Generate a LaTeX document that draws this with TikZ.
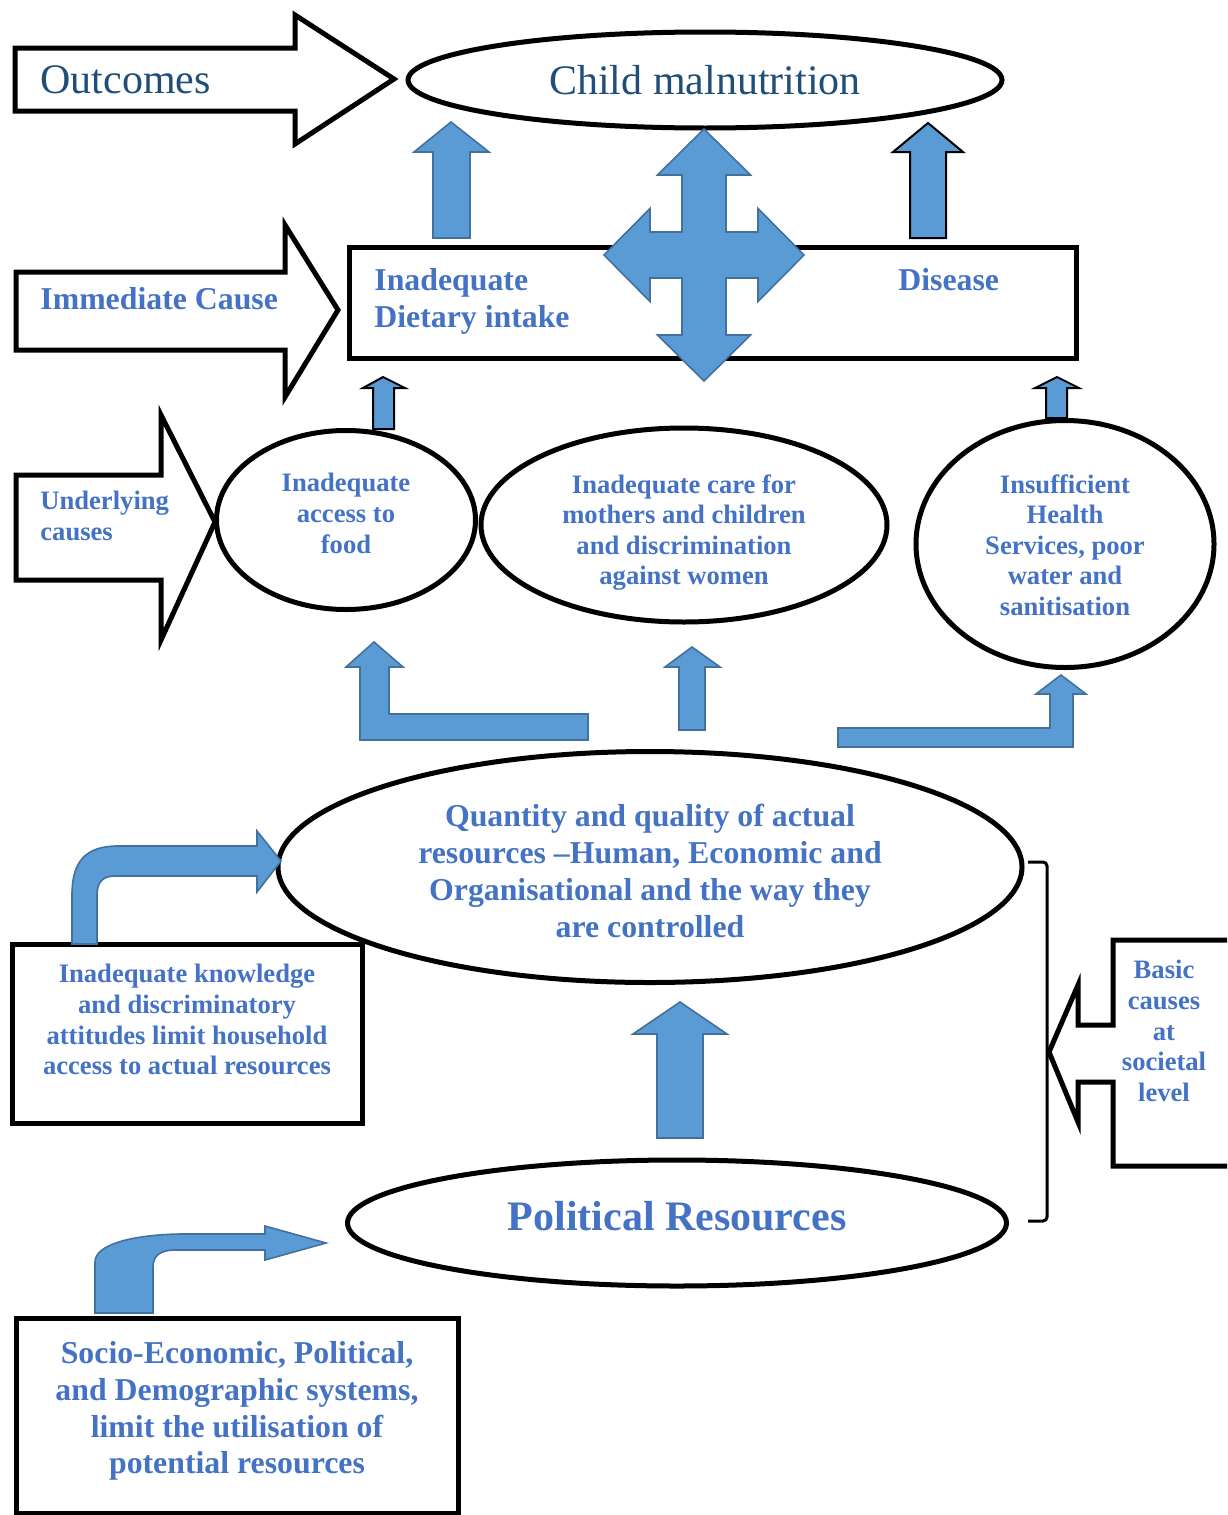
\documentclass[tikz,border=0pt]{standalone}
\usepackage{fontspec}
\setmainfont{Liberation Serif}
\usetikzlibrary{shapes.geometric}
\definecolor{fillblue}{HTML}{5B9BD5}
\definecolor{edgeblue}{HTML}{41719C}
\definecolor{txtblue}{HTML}{4472C4}
\definecolor{darkblue}{HTML}{1F4E79}
\begin{document}
\begin{tikzpicture}[x=0.5pt,y=-0.5pt,
  blk/.style={draw=black, line width=2.5pt, fill=white, line join=miter},
  barrow/.style={fill=fillblue, draw=edgeblue, line width=0.8pt, line join=miter},
  karrow/.style={fill=fillblue, draw=black, line width=1pt, line join=miter},
  ell/.style={ellipse, draw=black, line width=2.5pt, inner sep=0pt, fill=white},
  boxn/.style={rectangle, draw=black, line width=2.5pt, inner sep=0pt, fill=white},
  bigtxt/.style={inner sep=0pt, font=\fontsize{21}{25}\selectfont},
  midtxt/.style={inner sep=0pt, text=txtblue, align=center, font=\bfseries\fontsize{15.9}{18.4}\selectfont},
  smltxt/.style={inner sep=0pt, text=txtblue, align=center, font=\bfseries\fontsize{13.3}{15.3}\selectfont}
]
\useasboundingbox (0,0) rectangle (1227,1515);
\clip (0,0) rectangle (1227,1515);
\fill[white] (0,0) rectangle (1227,1515);

% ---- left side label arrows ----
\draw[blk] (15,48) -- (295,48) -- (295,15) -- (394,79) -- (295,144) -- (295,111) -- (15,111) -- cycle;
\draw[blk] (16,272) -- (285,272) -- (285,225) -- (338,310) -- (285,397) -- (285,350) -- (16,350) -- cycle;
\draw[blk] (16,475) -- (161,475) -- (161,415) -- (215,522) -- (161,640) -- (161,580) -- (16,580) -- cycle;
\draw[blk] (1300,940) -- (1113,940) -- (1113,1025) -- (1078,1025) -- (1078,985) -- (1049,1052) -- (1078,1122) -- (1078,1082) -- (1113,1082) -- (1113,1166) -- (1300,1166);

\node[bigtxt, text=darkblue, anchor=base west] (tout) at (40,93) {Outcomes};
\node[midtxt, anchor=base west] (timm) at (40,309) {Immediate Cause};
\node[smltxt, align=left, anchor=north west] (tund) at (40,491) {Underlying\\causes};
\node[smltxt, anchor=north] (tbasic) at (1164,960) {Basic\\causes\\at\\societal\\level};

% ---- main shapes ----
\node[ell, minimum width=297pt, minimum height=48pt] (child) at (705,80) {};
\node[bigtxt, text=darkblue, anchor=base] (tchild) at (705,94) {Child malnutrition};

\node[boxn, minimum width=363.5pt, minimum height=55.5pt] (imm) at (712.5,302.5) {};
\node[midtxt, align=left, anchor=north west] (tdiet) at (374,268) {Inadequate\\Dietary intake};
\node[midtxt, anchor=north west] (tdis) at (898,268) {Disease};

\node[ell, minimum width=129.5pt, minimum height=89.5pt] (food) at (346,520) {};
\node[ell, minimum width=203pt, minimum height=97pt] (care) at (684,525) {};
\node[ell, minimum width=149pt, minimum height=123.5pt] (health) at (1065,544) {};
\node[smltxt, anchor=north] (tfood) at (346,473) {Inadequate\\access to\\food};
\node[smltxt, anchor=north] (tcare) at (684,474) {Inadequate care for\\mothers and children\\and discrimination\\against women};
\node[smltxt, anchor=north] (thealth) at (1065,474) {Insufficient\\Health\\Services, poor\\water and\\sanitisation};

\node[ell, minimum width=372pt, minimum height=115.5pt] (quant) at (650,867) {};
\node[midtxt, anchor=north] (tquant) at (650,804) {Quantity and quality of actual\\resources --Human, Economic and\\Organisational and the way they\\are controlled};

\node[boxn, minimum width=175pt, minimum height=89.5pt] (know) at (187,1033.5) {};
\node[smltxt, anchor=north] (tknow) at (187,964) {Inadequate knowledge\\and discriminatory\\attitudes limit household\\access to actual resources};

\node[ell, minimum width=329.5pt, minimum height=63pt] (polit) at (677,1223) {};
\node[bigtxt, text=txtblue, font=\bfseries\fontsize{21}{25}\selectfont, anchor=north] (tpolit) at (677,1201) {Political Resources};

\node[boxn, minimum width=221pt, minimum height=97.5pt] (socio) at (237,1415.5) {};
\node[midtxt, anchor=north] (tsocio) at (237,1341) {Socio-Economic, Political,\\and Demographic systems,\\limit the utilisation of\\potential resources};

% ---- bracket ----
\draw[line width=1.5pt, rounded corners=2pt] (1028,862) -- (1047,862) -- (1047,1221) -- (1028,1221);

% ---- blue arrows ----
\draw[barrow] (433,238) -- (433,152) -- (414,152) -- (451,122) -- (489,152) -- (470,152) -- (470,238) -- cycle;
\draw[karrow] (910,238) -- (910,152) -- (893,152) -- (928,123) -- (963,152) -- (946,152) -- (946,238) -- cycle;
\draw[barrow] (704,129) -- (750.5,175) -- (726,175) -- (726,232) -- (758,232) -- (758,208.5) -- (804,255) -- (758,301.5) -- (758,278) -- (726,278) -- (726,335) -- (750.5,335) -- (704,381) -- (657.5,335) -- (682,335) -- (682,278) -- (650,278) -- (650,301.5) -- (604,255) -- (650,208.5) -- (650,232) -- (682,232) -- (682,175) -- (657.5,175) -- cycle;
\draw[karrow] (373,429) -- (373,388) -- (363,388) -- (383,377) -- (405,388) -- (394,388) -- (394,429) -- cycle;
\draw[karrow] (1046,418) -- (1046,388) -- (1035,388) -- (1057,377) -- (1079,388) -- (1067,388) -- (1067,418) -- cycle;
\draw[barrow] (588,714) -- (389,714) -- (389,667) -- (403,667) -- (374,642) -- (346,667) -- (360,667) -- (360,740) -- (588,740) -- cycle;
\draw[barrow] (679,730) -- (679,667) -- (665,667) -- (692,647) -- (720,667) -- (705,667) -- (705,730) -- cycle;
\draw[barrow] (838,728) -- (1050,728) -- (1050,694) -- (1036,694) -- (1061,675) -- (1086,694) -- (1073,694) -- (1073,747) -- (838,747) -- cycle;
\draw[barrow] (657,1138) -- (657,1034) -- (633,1034) -- (680,1002) -- (727,1034) -- (703,1034) -- (703,1138) -- cycle;
\draw[barrow] (72,944) -- (72,895) .. controls (72,862) and (85,846) .. (118,846) -- (257,846) -- (257,831) -- (281,861) -- (257,892) -- (257,876) -- (115,876) .. controls (103,876) and (97,882) .. (97,895) -- (97,944) -- cycle;
\draw[barrow] (95,1313) -- (95,1262) .. controls (95,1245) and (130,1235) .. (180,1234) -- (265,1234) -- (265,1226) -- (326,1243) -- (265,1260) -- (265,1250) -- (175,1250) .. controls (160,1250) and (153,1256) .. (153,1267) -- (153,1313) -- cycle;
\end{tikzpicture}
\end{document}
